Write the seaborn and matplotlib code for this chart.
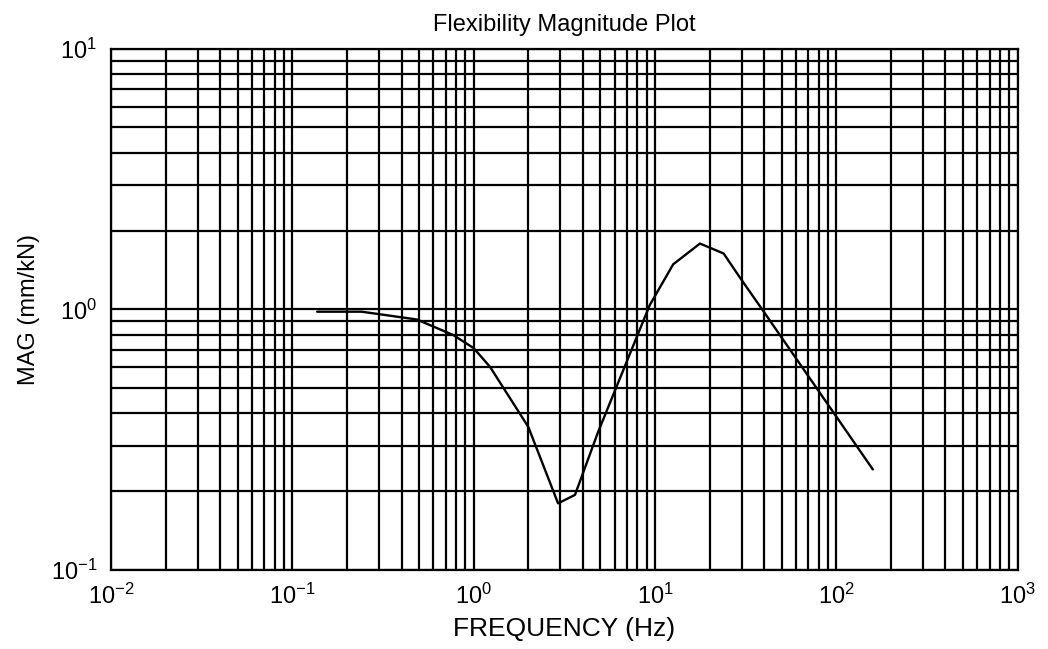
import matplotlib
matplotlib.use("Agg")
import matplotlib.pyplot as plt
import numpy as np
import pandas as pd
import seaborn as sns
from matplotlib.ticker import LogLocator, NullFormatter

# values
freq_hz = [0.137, 0.241, 0.485, 0.772, 1.0, 1.23, 2.0, 2.92, 3.62, 4.86,
           9.36, 12.6, 17.7, 23.9, 29.3, 39.4, 159.0]
mag_mm_kn = [0.98, 0.98, 0.915, 0.797, 0.71, 0.602, 0.354, 0.180, 0.194, 0.339,
             1.04, 1.49, 1.79, 1.64, 1.33, 0.99, 0.243]

df = pd.DataFrame({'freq': freq_hz, 'mag': mag_mm_kn})

sns.set_style('white')
plt.rcParams['font.family'] = ['Liberation Sans', 'DejaVu Sans']
plt.rcParams['mathtext.default'] = 'regular'
plt.rcParams['axes.unicode_minus'] = False
plt.rcParams['text.color'] = 'black'
plt.rcParams['axes.labelcolor'] = 'black'

fig = plt.figure(figsize=(10.48, 6.49), dpi=100)
ax = fig.add_axes([0.106, 0.122, 0.865, 0.8025])

sns.lineplot(data=df, x='freq', y='mag', color='black', linewidth=1.7, ax=ax,
             sort=False)

ax.set_xscale('log')
ax.set_yscale('log')
ax.set_xlim(1e-2, 1e3)
ax.set_ylim(1e-1, 1e1)

for axis in (ax.xaxis, ax.yaxis):
	axis.set_major_locator(LogLocator(base=10, numticks=10))
	axis.set_minor_locator(LogLocator(base=10, subs=np.arange(2, 10), numticks=10))
	axis.set_minor_formatter(NullFormatter())

ax.grid(True, which='both', color='black', linewidth=1.6)
ax.tick_params(which='both', length=0, labelsize=17, pad=10,
               colors='black', labelcolor='black')
for s in ax.spines.values():
	s.set_color('black')
	s.set_linewidth(1.6)

ax.set_xlabel('FREQUENCY (Hz)', fontsize=19, labelpad=6, color='black')
ax.set_ylabel('MAG (mm/kN)', fontsize=17, labelpad=8, color='black')
ax.set_title('Flexibility Magnitude Plot', fontsize=17, pad=13, color='black')

fig.savefig('out.png', dpi=100, facecolor='white')
